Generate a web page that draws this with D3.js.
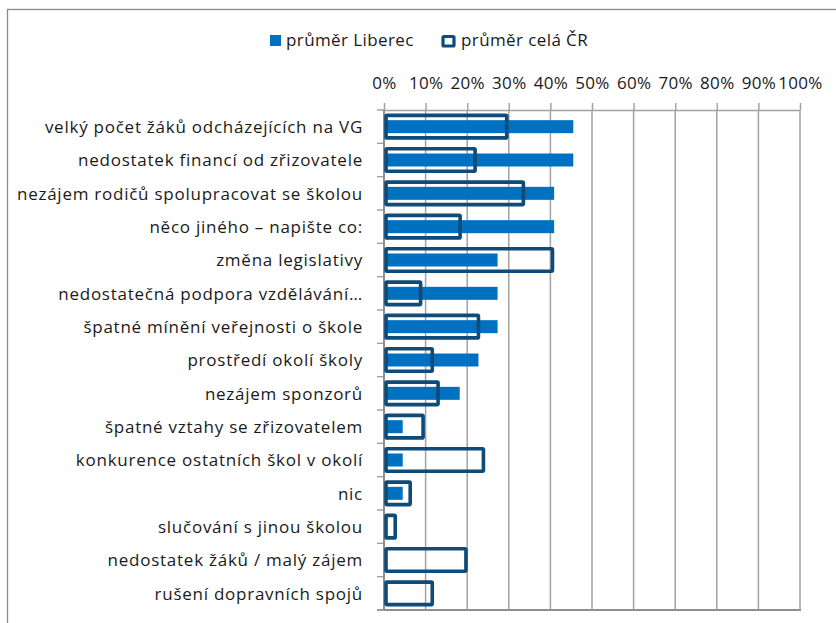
<!DOCTYPE html>
<html>
<head>
<meta charset="utf-8">
<script src="https://cdn.jsdelivr.net/npm/d3@7"></script>
<style>
  html, body { margin: 0; padding: 0; background: #fff; }
  svg { display: block; font-family: "Open Sans", "Noto Sans", sans-serif; }
</style>
</head>
<body>
<svg id="chart" width="836" height="623"></svg>
<script>
// Reasons, shown top to bottom
const categories = [
  "velký počet žáků odcházejících na VG",
  "nedostatek financí od zřizovatele",
  "nezájem rodičů spolupracovat se školou",
  "něco jiného – napište co:",
  "změna legislativy",
  "nedostatečná podpora vzdělávání…",
  "špatné mínění veřejnosti o škole",
  "prostředí okolí školy",
  "nezájem sponzorů",
  "špatné vztahy se zřizovatelem",
  "konkurence ostatních škol v okolí",
  "nic",
  "slučování s jinou školou",
  "nedostatek žáků / malý zájem",
  "rušení dopravních spojů"
];

// Share of schools (%)
const liberec = [45.5, 45.5, 40.9, 40.9, 27.3, 27.3, 27.3, 22.7, 18.2, 4.5, 4.5, 4.5, 0, 0, 0];
const celaCR  = [29.5, 21.9, 33.5, 18.3, 40.5, 8.8, 22.7, 11.6, 13.0, 9.4, 23.9, 6.3, 2.7, 19.7, 11.6];

const seriesNames = ["průměr Liberec", "průměr celá ČR"];
const tickValues = [0, 10, 20, 30, 40, 50, 60, 70, 80, 90, 100];

const svg = d3.select("#chart");
const blue = "#0070c0";
const navy = "#0e4b78";
const grid = "#a3a3a3";
const textColor = "#1a1a1a";

// outer frame
svg.append("rect")
  .attr("x", 7.5).attr("y", 9.5)
  .attr("width", 840).attr("height", 630)
  .attr("fill", "none").attr("stroke", "#8c8c8c").attr("stroke-width", 1.3);

const x = d3.scaleLinear().domain([0, 100]).range([384, 800]);
const y = d3.scaleBand().domain(categories).range([110, 610]);

// vertical gridlines
svg.append("g").selectAll("line")
  .data(tickValues.slice(1))
  .join("line")
  .attr("x1", d => x(d)).attr("x2", d => x(d))
  .attr("y1", 110).attr("y2", 610)
  .attr("stroke", grid).attr("stroke-width", 1.5);

// top axis with percentage labels
const xAxis = d3.axisTop(x).tickValues(tickValues)
  .tickFormat(d => d + "%").tickSize(7).tickSizeOuter(0).tickPadding(14);
const gx = svg.append("g").attr("transform", "translate(0,110)").call(xAxis);
gx.select(".domain").attr("stroke", grid).attr("stroke-width", 1.5);
gx.selectAll(".tick line").attr("stroke", grid).attr("stroke-width", 1.5);
gx.selectAll(".tick text")
  .attr("fill", textColor)
  .style("font-size", "17px")
  .style("letter-spacing", "0.3px")
  .style("font-family", "\"Open Sans\", sans-serif");

// bottom baseline
svg.append("line")
  .attr("x1", 377).attr("x2", 801)
  .attr("y1", 610).attr("y2", 610)
  .attr("stroke", "#8f8f8f").attr("stroke-width", 2);

// left category axis
const yAxis = d3.axisLeft(y).tickSize(0).tickPadding(21);
const gy = svg.append("g").attr("transform", "translate(384,0)").call(yAxis);
gy.select(".domain").remove();
gy.selectAll(".tick text")
  .attr("fill", textColor)
  .attr("dy", "0.38em")
  .style("font-size", "17px")
  .style("letter-spacing", "0.75px")
  .style("font-family", "\"Open Sans\", sans-serif");

// category separators on the left axis
svg.append("g").selectAll("line")
  .data(categories.concat([null]))
  .join("line")
  .attr("x1", 377).attr("x2", 384)
  .attr("y1", (d, i) => 110 + i * y.step())
  .attr("y2", (d, i) => 110 + i * y.step())
  .attr("stroke", grid).attr("stroke-width", 1.5);
svg.append("line")
  .attr("x1", 384).attr("x2", 384).attr("y1", 110).attr("y2", 610)
  .attr("stroke", "#8f8f8f").attr("stroke-width", 2);

// Liberec bars (solid, narrow)
const innerH = 13;
svg.append("g").selectAll("rect")
  .data(liberec)
  .join("rect")
  .attr("x", x(0) + 1)
  .attr("y", (d, i) => y(categories[i]) + y.bandwidth() / 2 - innerH / 2)
  .attr("width", d => Math.max(0, x(d) - x(0) - 1))
  .attr("height", innerH)
  .attr("fill", blue);

// national average bars (outlined, wide)
const outerH = 22.5;
svg.append("g").selectAll("rect")
  .data(celaCR)
  .join("rect")
  .attr("x", x(0) + 2)
  .attr("y", (d, i) => y(categories[i]) + y.bandwidth() / 2 - outerH / 2)
  .attr("width", d => x(d) - x(0) - 2)
  .attr("height", outerH)
  .attr("rx", 1)
  .attr("fill", "none")
  .attr("stroke", navy)
  .attr("stroke-width", 3.6);

// legend
const legend = svg.append("g")
  .style("font-size", "17px")
  .style("letter-spacing", "0.4px");
legend.append("rect")
  .attr("x", 270).attr("y", 35).attr("width", 11).attr("height", 11)
  .attr("fill", blue);
legend.append("text")
  .attr("x", 286).attr("y", 45.5)
  .attr("fill", textColor)
  .text(seriesNames[0]);
legend.append("rect")
  .attr("x", 443).attr("y", 36.5).attr("width", 11).attr("height", 9.5)
  .attr("rx", 1)
  .attr("fill", "#fff").attr("stroke", navy).attr("stroke-width", 3.2);
legend.append("text")
  .attr("x", 461).attr("y", 45.5)
  .attr("fill", textColor)
  .text(seriesNames[1]);
</script>
</body>
</html>
